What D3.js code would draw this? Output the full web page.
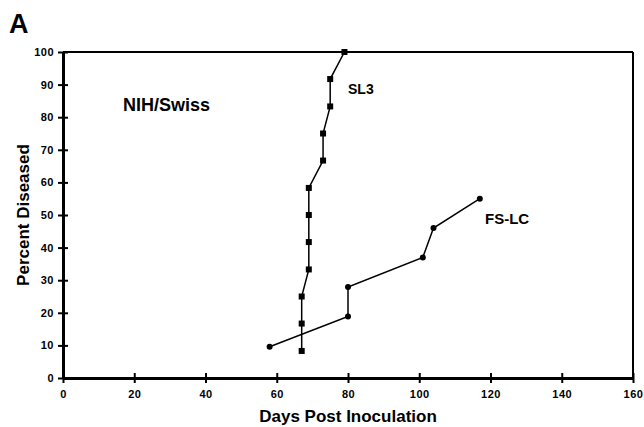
<!DOCTYPE html>
<html>
<head>
<meta charset="utf-8">
<script src="https://cdn.jsdelivr.net/npm/d3@7"></script>
<style>
    body { margin: 0; background: #fff; }
    svg { font-family: 'Liberation Sans', Arial, sans-serif; font-weight: bold; }
    .tick text { font-size: 11px; font-weight: bold; letter-spacing: 0.5px; }
</style>
</head>
<body>
<div id="chartDiv"></div>
<script>
// values
let sl3Days = [67, 67, 67, 69, 69, 69, 69, 73, 73, 75, 75, 79];
let sl3Pct = [8.3, 16.7, 25, 33.3, 41.7, 50, 58.3, 66.7, 75, 83.3, 91.7, 100];
let fslcDays = [58, 80, 80, 101, 104, 117];
let fslcPct = [9.6, 18.9, 27.9, 37, 46, 55];
let xTicks = [0, 20, 40, 60, 80, 100, 120, 140, 160];
let yTicks = [0, 10, 20, 30, 40, 50, 60, 70, 80, 90, 100];

let margin = {top: 52, right: 11, bottom: 49, left: 63};
let width = 644 - margin.left - margin.right;
let height = 427 - margin.top - margin.bottom;

let root = d3.select('#chartDiv')
    .append('svg')
    .attr('width', 644)
    .attr('height', 427);

let svg = root.append('g')
    .attr('transform', 'translate(' + margin.left + ',' + margin.top + ')');

let xScale = d3.scaleLinear().domain([0, 160]).range([0, width]);
let yScale = d3.scaleLinear().domain([0, 100]).range([height, 0]);

// frame: top and right are thinner than the axes
svg.append('line').attr('x1', 0).attr('x2', width).attr('y1', 0).attr('y2', 0)
    .attr('stroke', '#000').attr('stroke-width', 2);
svg.append('line').attr('x1', width).attr('x2', width).attr('y1', 0).attr('y2', height)
    .attr('stroke', '#000').attr('stroke-width', 2);

let xAxis = svg.append('g')
    .attr('transform', 'translate(0,' + height + ')')
    .call(d3.axisBottom(xScale).tickValues(xTicks).tickSizeInner(5).tickSizeOuter(0).tickPadding(7));
xAxis.select('.domain').attr('stroke-width', 3);
xAxis.selectAll('.tick line').attr('y1', -5).attr('stroke-width', 2);

let yAxis = svg.append('g')
    .call(d3.axisLeft(yScale).tickValues(yTicks).tickSizeInner(5).tickSizeOuter(0).tickPadding(5));
yAxis.select('.domain').attr('stroke-width', 3);
yAxis.selectAll('.tick line').attr('x1', 5).attr('x2', -5).attr('stroke-width', 2);
yAxis.selectAll('.tick text').attr('x', -9);

// series
let line = d3.line().x(d => xScale(d[0])).y(d => yScale(d[1]));
let sl3 = sl3Days.map((d, i) => [d, sl3Pct[i]]);
let fslc = fslcDays.map((d, i) => [d, fslcPct[i]]);

svg.append('path').datum(sl3).attr('d', line)
    .attr('fill', 'none').attr('stroke', '#000').attr('stroke-width', 1.5);
svg.append('path').datum(fslc).attr('d', line)
    .attr('fill', 'none').attr('stroke', '#000').attr('stroke-width', 1.5);

svg.selectAll('.sq')
    .data(sl3)
    .enter()
    .append('rect')
    .attr('class', 'sq')
    .attr('x', d => xScale(d[0]) - 3)
    .attr('y', d => yScale(d[1]) - 3)
    .attr('width', 6)
    .attr('height', 6)
    .attr('fill', '#000');

svg.selectAll('.dot')
    .data(fslc)
    .enter()
    .append('circle')
    .attr('class', 'dot')
    .attr('cx', d => xScale(d[0]))
    .attr('cy', d => yScale(d[1]))
    .attr('r', 3)
    .attr('fill', '#000');

// labels
root.append('text').attr('x', 9).attr('y', 33).attr('font-size', 27).text('A');
root.append('text').attr('x', 123).attr('y', 111).attr('font-size', 18).text('NIH/Swiss');
root.append('text').attr('x', 348).attr('y', 94).attr('font-size', 14).text('SL3');
root.append('text').attr('x', 485).attr('y', 224).attr('font-size', 15).text('FS-LC');

root.append('text')
    .attr('x', margin.left + width / 2)
    .attr('y', 422)
    .attr('text-anchor', 'middle')
    .attr('font-size', 17)
    .text('Days Post Inoculation');

root.append('text')
    .attr('transform', 'translate(29,' + (margin.top + height / 2) + ') rotate(-90)')
    .attr('text-anchor', 'middle')
    .attr('font-size', 17)
    .text('Percent Diseased');
</script>
</body>
</html>
